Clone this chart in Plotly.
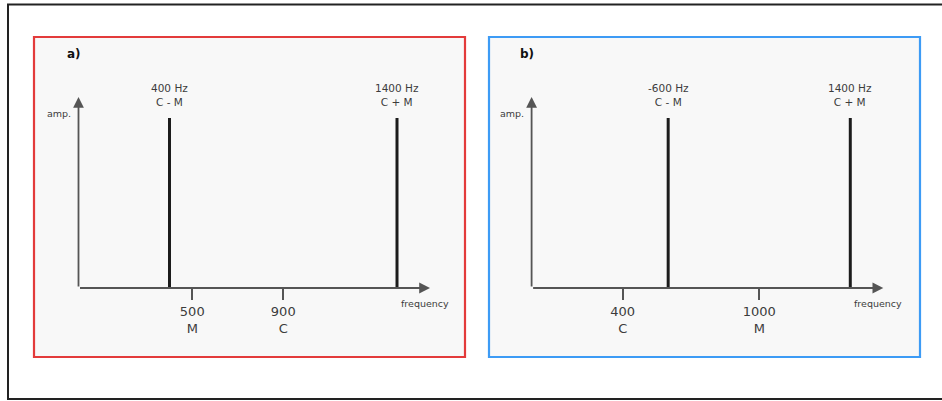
import plotly.graph_objects as go

# ---------------- data ----------------
panel_titles = ["a)", "b)"]
a_freqs = [400, 1400]
a_amps = [1, 1]
a_labels = ["400 Hz<br>C - M", "1400 Hz<br>C + M"]
a_tickvals = [500, 900]
a_ticktext = ["500<br>M", "900<br>C"]

b_freqs = [600, 1400]
b_amps = [1, 1]
b_labels = ["-600 Hz<br>C - M", "1400 Hz<br>C + M"]
b_tickvals = [400, 1000]
b_ticktext = ["400<br>C", "1000<br>M"]

freq_max = 1545      # arrow tip of frequency axis
amp_max = 1.1235     # arrow tip of amplitude axis

# ---------------- layout helpers ----------------
W, H = 942, 401
def px(x):
    return x / W
def py(y):
    return 1 - y / H

FONT = "DejaVu Sans"
TXT = "#3c3c3c"
AXC = "#555555"
LINEC = "#1c1c1c"

panels = [
    dict(freqs=a_freqs, amps=a_amps, labels=a_labels, tv=a_tickvals, tt=a_ticktext,
         title=panel_titles[0], box=(34, 37, 465, 357), color="#e33b3b",
         xdom=(78.5, 430), xa="x", ya="y"),
    dict(freqs=b_freqs, amps=b_amps, labels=b_labels, tv=b_tickvals, tt=b_ticktext,
         title=panel_titles[1], box=(489, 37, 920, 357), color="#3d9bf5",
         xdom=(531.6, 883.3), xa="x2", ya="y2"),
]
ydom = (97, 288)

fig = go.Figure()
shapes = []
annotations = []

# outer frame
shapes.append(dict(type="rect", xref="paper", yref="paper",
                   x0=px(8), x1=px(950), y0=py(399), y1=py(4.5),
                   line=dict(color="#222222", width=2), layer="below"))

for i, p in enumerate(panels):
    x0, y0, x1, y1 = p["box"]
    shapes.append(dict(type="rect", xref="paper", yref="paper",
                       x0=px(x0), x1=px(x1), y0=py(y1), y1=py(y0),
                       fillcolor="#f8f8f8", line=dict(color=p["color"], width=2.2),
                       layer="below"))
    xs, ys = [], []
    for f, a in zip(p["freqs"], p["amps"]):
        xs += [f, f, None]
        ys += [0, a, None]
    fig.add_trace(go.Scatter(x=xs, y=ys, mode="lines", xaxis=p["xa"], yaxis=p["ya"],
                             line=dict(color=LINEC, width=3), hoverinfo="skip",
                             showlegend=False))
    xref = p["xa"]
    yref = p["ya"]
    # axis arrows
    annotations.append(dict(x=freq_max, y=0, ax=0, ay=0, xref=xref, yref=yref,
                            axref=xref, ayref=yref, text="", showarrow=True,
                            arrowhead=2, arrowsize=1.2, arrowwidth=1.8,
                            arrowcolor=AXC, standoff=0))
    annotations.append(dict(x=0, y=amp_max, ax=0, ay=0, xref=xref, yref=yref,
                            axref=xref, ayref=yref, text="", showarrow=True,
                            arrowhead=2, arrowsize=1.2, arrowwidth=1.8,
                            arrowcolor=AXC, standoff=0))
    # line labels
    for f, a, lab in zip(p["freqs"], p["amps"], p["labels"]):
        annotations.append(dict(x=f, y=a, xref=xref, yref=yref, text=lab,
                                showarrow=False, xanchor="center", yanchor="bottom",
                                yshift=8,
                                font=dict(family=FONT, size=10.5, color=TXT)))
    # panel title, axis names
    xl = p["xdom"][0]
    annotations.append(dict(x=px(xl - 5), y=py(54), xref="paper", yref="paper",
                            text="<b>%s</b>" % p["title"], showarrow=False,
                            xanchor="center", yanchor="middle",
                            font=dict(family=FONT, size=12, color="#111111")))
    annotations.append(dict(x=px(xl - 20), y=py(113), xref="paper", yref="paper",
                            text="amp.", showarrow=False,
                            xanchor="center", yanchor="middle",
                            font=dict(family=FONT, size=9.5, color=TXT)))
    annotations.append(dict(x=px(p["xdom"][1] - 5), y=py(303), xref="paper", yref="paper",
                            text="frequency", showarrow=False,
                            xanchor="center", yanchor="middle",
                            font=dict(family=FONT, size=9.5, color=TXT)))

common_x = dict(range=[0, freq_max], showgrid=False, zeroline=False, showline=False,
                ticks="outside", ticklen=11, tickwidth=2, tickcolor=AXC,
                tickfont=dict(family=FONT, size=13, color=TXT), fixedrange=True)
common_y = dict(range=[0, amp_max], showgrid=False, zeroline=False, showline=False,
                showticklabels=False, ticks="", fixedrange=True)

fig.update_layout(
    width=W, height=H, margin=dict(l=0, r=0, t=0, b=0),
    paper_bgcolor="white", plot_bgcolor="rgba(0,0,0,0)",
    xaxis=dict(domain=[px(panels[0]["xdom"][0]), px(panels[0]["xdom"][1])],
               anchor="y", tickvals=a_tickvals, ticktext=a_ticktext, **common_x),
    yaxis=dict(domain=[py(ydom[1]), py(ydom[0])], anchor="x", **common_y),
    xaxis2=dict(domain=[px(panels[1]["xdom"][0]), px(panels[1]["xdom"][1])],
                anchor="y2", tickvals=b_tickvals, ticktext=b_ticktext, **common_x),
    yaxis2=dict(domain=[py(ydom[1]), py(ydom[0])], anchor="x2", **common_y),
    shapes=shapes, annotations=annotations, showlegend=False,
)

fig.write_html("out.html", config={"displayModeBar": False},
               post_script="document.body.style.margin='0';document.body.style.overflow='hidden';")
